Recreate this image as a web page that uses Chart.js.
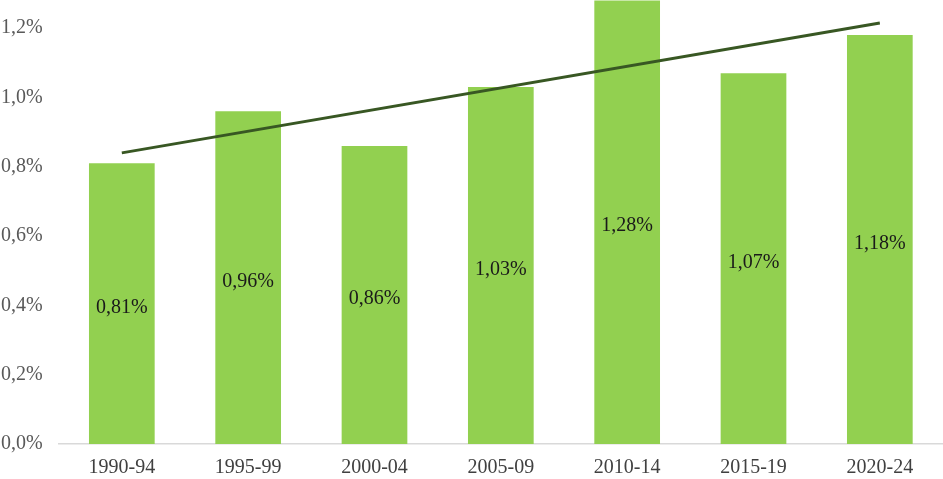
<!DOCTYPE html>
<html>
<head>
<meta charset="utf-8">
<script src="https://cdn.jsdelivr.net/npm/chart.js@4/dist/chart.umd.min.js"></script>
<style>
  html, body { margin: 0; padding: 0; background: #fff; }
  #wrap { width: 943px; height: 479px; position: relative; overflow: hidden; }
  /* original is cropped at the top, so the chart box sticks out above */
  #inner { position: absolute; left: 0; top: -29px; width: 943px; height: 508px; }
</style>
</head>
<body>
<div id="wrap"><div id="inner"><canvas id="chart"></canvas></div></div>
<script>
// periods on the x axis
const periods = ["1990-94", "1995-99", "2000-04", "2005-09", "2010-14", "2015-19", "2020-24"];
// bar values, in percent
const shares = [0.81, 0.96, 0.86, 1.03, 1.28, 1.07, 1.18];
// linear trend line (ends only)
const trend = [0.84, null, null, null, null, null, 1.215];
// y tick values
const yTicks = [0, 0.2, 0.4, 0.6, 0.8, 1.0, 1.2];

const fmt = (v, digits) => v.toFixed(digits).replace(".", ",") + "%";

// draws the value in the middle of each bar
const barLabels = {
  id: "barLabels",
  afterDatasetsDraw(chart) {
    const ctx = chart.ctx;
    const meta = chart.getDatasetMeta(1);
    ctx.save();
    ctx.font = "20px 'Liberation Serif', 'Times New Roman', serif";
    ctx.fillStyle = "#1a1a1a";
    ctx.textAlign = "center";
    ctx.textBaseline = "middle";
    meta.data.forEach((bar, i) => {
      const mid = (bar.y + bar.base) / 2;
      ctx.fillText(fmt(shares[i], 2), bar.x, mid + 4);
    });
    ctx.restore();
  }
};

const ctx = document.getElementById("chart").getContext("2d");
new Chart(ctx, {
  data: {
    labels: periods,
    datasets: [
      {
        type: "line",
        label: "Trend",
        data: trend,
        spanGaps: true,
        borderColor: "#385723",
        borderWidth: 3,
        pointRadius: 0,
        order: 0
      },
      {
        type: "bar",
        label: "Share",
        data: shares,
        backgroundColor: "#92D050",
        barPercentage: 0.52,
        categoryPercentage: 1,
        order: 1
      }
    ]
  },
  options: {
    responsive: true,
    maintainAspectRatio: false,
    animation: false,
    layout: { padding: { top: 0, right: 0, left: -15, bottom: -13 } },
    plugins: {
      legend: { display: false },
      tooltip: { enabled: false }
    },
    scales: {
      x: {
        grid: { display: false, drawTicks: false },
        border: { color: "#d9d9d9", width: 1.5 },
        ticks: {
          color: "#404040",
          padding: 12,
          font: { family: "'Liberation Serif', 'Times New Roman', serif", size: 20 }
        }
      },
      y: {
        min: 0,
        max: 1.284,
        afterBuildTicks: (axis) => { axis.ticks = yTicks.map((v) => ({ value: v })); },
        grid: { display: false, drawTicks: false },
        border: { display: false },
        ticks: {
          color: "#595959",
          padding: 16,
          callback: (v) => fmt(v, 1),
          font: { family: "'Liberation Serif', 'Times New Roman', serif", size: 20 }
        }
      }
    }
  },
  plugins: [barLabels]
});
</script>
</body>
</html>
